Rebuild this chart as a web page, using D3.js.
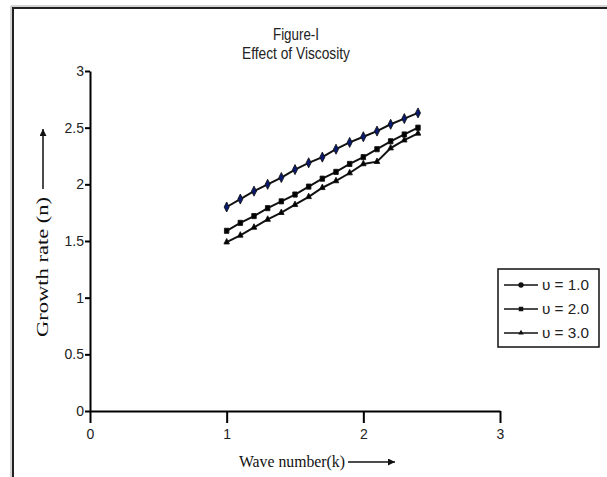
<html lang="en">
<head>
<meta charset="utf-8">
<style type="text/css">
    body { margin: 0; background: #fff; }
    .tick text { font-family: "Liberation Sans", Arial, sans-serif; font-size: 14px; fill: #222; }
    .narrow { font-family: "Liberation Sans", Arial, sans-serif; fill: #222; }
    .serif { font-family: "Liberation Serif", "Times New Roman", serif; fill: #111; }
</style>
</head>
<body>
<svg width="607" height="477"></svg>

<script src="https://d3js.org/d3.v7.min.js"></script>
<script type="text/javascript">
    // wave number k
    var waveNumbers = [1.0, 1.1, 1.2, 1.3, 1.4, 1.5, 1.6, 1.7, 1.8, 1.9, 2.0, 2.1, 2.2, 2.3, 2.4];
    // growth rate n for each viscosity
    var growthV1 = [1.80, 1.87, 1.94, 2.00, 2.06, 2.13, 2.19, 2.24, 2.31, 2.37, 2.42, 2.47, 2.53, 2.58, 2.63];
    var growthV2 = [1.59, 1.66, 1.72, 1.79, 1.85, 1.91, 1.98, 2.05, 2.11, 2.18, 2.24, 2.31, 2.38, 2.44, 2.50];
    var growthV3 = [1.49, 1.55, 1.62, 1.69, 1.75, 1.82, 1.89, 1.97, 2.03, 2.10, 2.18, 2.20, 2.32, 2.39, 2.45];
    var seriesNames = ["\u03c5 = 1.0", "\u03c5 = 2.0", "\u03c5 = 3.0"];
    var xTicks = [0, 1, 2, 3];
    var yTicks = [0, 0.5, 1, 1.5, 2, 2.5, 3];

    var svg = d3.select("svg");

    // page frame (only top and left edges visible)
    svg.append("path")
        .attr("d", "M 11,477 L 11,6 L 607,6")
        .attr("fill", "none").attr("stroke", "#aaa").attr("stroke-width", 1);
    svg.append("path")
        .attr("d", "M 13,477 L 13,8 L 607,8")
        .attr("fill", "none").attr("stroke", "#222").attr("stroke-width", 2);

    var x = d3.scaleLinear().domain([0, 3]).range([90, 500]);
    var y = d3.scaleLinear().domain([0, 3]).range([411, 71]);

    var xAxis = svg.append("g")
        .attr("transform", "translate(0," + y(0) + ")")
        .call(d3.axisBottom(x).tickValues(xTicks).tickFormat(d3.format("d")).tickSize(12).tickSizeOuter(0).tickPadding(6));
    var yAxis = svg.append("g")
        .attr("transform", "translate(" + x(0) + ",0)")
        .call(d3.axisLeft(y).tickValues(yTicks).tickFormat(function (d) { return d; }).tickSize(5).tickSizeOuter(0).tickPadding(1));
    [xAxis, yAxis].forEach(function (a) {
        a.select(".domain").attr("stroke", "#000").attr("stroke-width", 2);
        a.selectAll(".tick line").attr("stroke", "#000").attr("stroke-width", 2);
    });

    // titles
    svg.append("text").attr("class", "narrow").attr("x", 296).attr("y", 40)
        .attr("text-anchor", "middle").style("font-size", "17px")
        .attr("textLength", 46).attr("lengthAdjust", "spacingAndGlyphs")
        .text("Figure-I");
    svg.append("text").attr("class", "narrow").attr("x", 296).attr("y", 59)
        .attr("text-anchor", "middle").style("font-size", "17px")
        .attr("textLength", 108).attr("lengthAdjust", "spacingAndGlyphs")
        .text("Effect of Viscosity");

    // axis titles with arrows
    svg.append("defs").append("marker")
        .attr("id", "arrowhead")
        .attr("viewBox", "0 -5 10 10")
        .attr("refX", 10).attr("refY", 0)
        .attr("orient", "auto")
        .attr("markerUnits", "userSpaceOnUse")
        .attr("markerWidth", 10).attr("markerHeight", 7)
        .append("path").attr("d", "M 0,-5 L 10,0 L 0,5 Z").attr("fill", "#111");

    svg.append("text").attr("class", "serif")
        .attr("transform", "translate(48,267) rotate(-90)")
        .attr("text-anchor", "middle").style("font-size", "16px")
        .attr("textLength", 140).attr("lengthAdjust", "spacingAndGlyphs")
        .text("Growth rate (n)");
    svg.append("line").attr("x1", 43).attr("x2", 43).attr("y1", 189).attr("y2", 129)
        .attr("stroke", "#111").attr("stroke-width", 1.5).attr("marker-end", "url(#arrowhead)");

    svg.append("text").attr("class", "serif")
        .attr("x", 292).attr("y", 467).attr("text-anchor", "middle").style("font-size", "16px")
        .attr("textLength", 106).attr("lengthAdjust", "spacingAndGlyphs")
        .text("Wave number(k)");
    svg.append("line").attr("x1", 348).attr("x2", 395).attr("y1", 462).attr("y2", 462)
        .attr("stroke", "#111").attr("stroke-width", 1.5).attr("marker-end", "url(#arrowhead)");

    // series
    var series = [growthV1, growthV2, growthV3].map(function (vals, i) {
        return { name: seriesNames[i], points: waveNumbers.map(function (k, j) { return [k, vals[j]]; }) };
    });
    var symbols = [d3.symbolDiamond, d3.symbolSquare, d3.symbolTriangle];
    var symbolSizes = [22, 20, 13];
    var symbolFills = ["#0a1a6e", "#000", "#000"];

    var line = d3.line().x(function (d) { return x(d[0]); }).y(function (d) { return y(d[1]); });

    series.forEach(function (s, i) {
        svg.append("path").datum(s.points)
            .attr("d", line)
            .attr("fill", "none").attr("stroke", "#111").attr("stroke-width", 2);
        svg.selectAll(".pt" + i).data(s.points).enter()
            .append("path")
            .attr("class", "pt" + i)
            .attr("d", d3.symbol().type(symbols[i]).size(symbolSizes[i]))
            .attr("transform", function (d) { return "translate(" + x(d[0]) + "," + y(d[1]) + ") scale(1,1.15)"; })
            .attr("fill", symbolFills[i]).attr("stroke", "#111").attr("stroke-width", 0.8);
    });

    // legend
    var legend = svg.append("g");
    legend.append("rect").attr("x", 498).attr("y", 269).attr("width", 101).attr("height", 78)
        .attr("fill", "#fff").attr("stroke", "#111").attr("stroke-width", 1.5);
    var legendY = d3.scalePoint().domain(seriesNames).range([285, 333]);
    series.forEach(function (s, i) {
        var ly = legendY(s.name);
        legend.append("line").attr("x1", 504).attr("x2", 538).attr("y1", ly).attr("y2", ly)
            .attr("stroke", "#111").attr("stroke-width", 1.5);
        legend.append("path")
            .attr("d", d3.symbol().type(i === 0 ? d3.symbolCircle : symbols[i]).size(symbolSizes[i]))
            .attr("transform", "translate(521," + ly + ")")
            .attr("fill", "#111");
        legend.append("text").attr("class", "narrow").attr("x", 542).attr("y", ly + 5)
            .style("font-size", "15px")
            .attr("textLength", 47).attr("lengthAdjust", "spacingAndGlyphs")
            .text(s.name);
    });
</script>
</body>
</html>
